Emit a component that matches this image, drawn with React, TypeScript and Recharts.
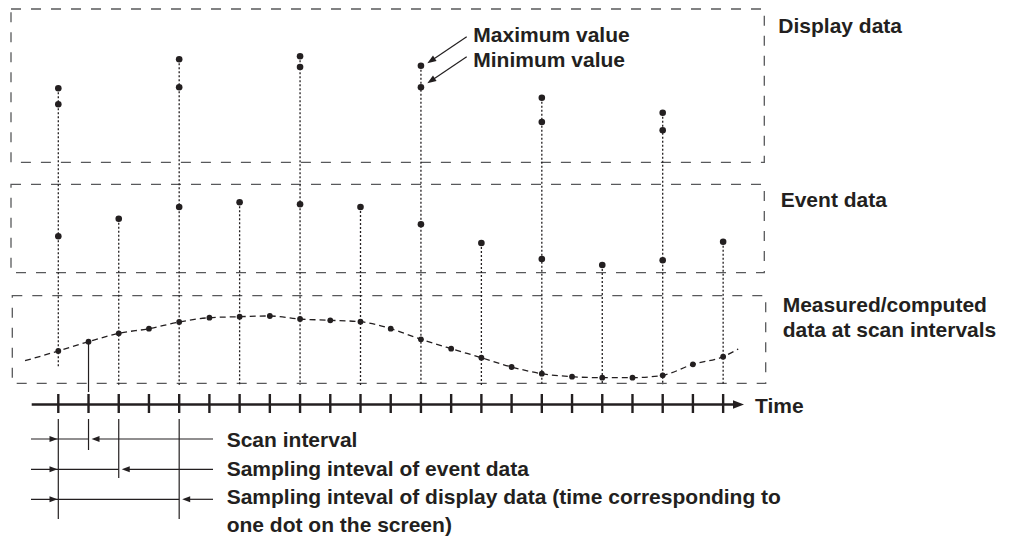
import React from "react";
import {
  ComposedChart,
  XAxis,
  YAxis,
  Scatter,
  Line,
  ReferenceLine,
  ReferenceArea,
  ReferenceDot,
} from "recharts";

const INK = "#231f20";
const FRAME = "#58595b";
const FONT = "'Liberation Sans', Arial, Helvetica, sans-serif";

// one scan per tick on the time axis
const scanTimes = [0, 1, 2, 3, 4, 5, 6, 7, 8, 9, 10, 11, 12, 13, 14, 15, 16, 17, 18, 19, 20, 21, 22];
const scanValues = [
  190, 199.3, 207.7, 212.3, 219, 223.3, 224.3, 225, 222, 220.7, 219.3, 212.3,
  201.7, 192.3, 183.3, 174, 167.3, 164.3, 163.3, 163.3, 165.7, 176.7, 184.3,
];
// the dashed trend runs a bit past the first and last scan
const trendStartT = -1.1;
const trendStartV = 180.3;
const trendEndT = 22.5;
const trendEndV = 192;

// event data, every second scan
const eventTimes = [0, 2, 4, 6, 8, 10, 12, 14, 16, 18, 20, 22];
const eventValues = [304.7, 322.3, 334, 338.7, 336.7, 334, 316.7, 298, 282, 276, 280.7, 299.3];

// display data (max / min pair), every fourth scan
const displayTimes = [0, 4, 8, 12, 16, 20];
const displayMax = [452.7, 481.7, 484.7, 475.3, 443.3, 428.3];
const displayMin = [436.7, 453.7, 474, 453.7, 419, 410.7];

const intervalSpans = [1, 2, 4];
const intervalLabels = [
  "Scan interval",
  "Sampling inteval of event data",
  "Sampling inteval of display data (time corresponding to",
];

// page layout (pixels)
const W = 1009;
const H = 541;
const T0_PX = 58.3;
const DT_PX = 30.22;
const tAt = (px: number) => (px - T0_PX) / DT_PX;
const vAt = (py: number) => H - py;
const pxOfT = (t: number) => T0_PX + t * DT_PX;

const scanData = scanTimes.map((t, i) => ({ t, v: scanValues[i] }));
const trendData = [
  { t: trendStartT, v: trendStartV },
  ...scanData,
  { t: trendEndT, v: trendEndV },
];
const eventData = eventTimes.map((t, i) => ({ t, v: eventValues[i] }));
const displayData = displayTimes.flatMap((t, i) => [
  { t, v: displayMax[i] },
  { t, v: displayMin[i] },
]);

const dropTop = eventTimes.map((t, i) => {
  const d = displayTimes.indexOf(t);
  return d >= 0 ? Math.max(displayMax[d], eventValues[i]) : eventValues[i];
});

const dot = (r: number) => (p: any) => <circle cx={p.cx} cy={p.cy} r={r} fill={INK} />;

const seg = (key: string, x1: number, y1: number, x2: number, y2: number, style: any) => (
  <ReferenceLine
    key={key}
    segment={[{ x: x1, y: y1 }, { x: x2, y: y2 }]}
    ifOverflow="visible"
    {...style}
  />
);

const head = (key: string, x: number, y: number, angle: number, len = 9, half = 3.2) => (
  <ReferenceDot
    key={key}
    x={x}
    y={y}
    r={1}
    ifOverflow="visible"
    shape={(p: any) => {
      const a = (angle * Math.PI) / 180;
      const c = Math.cos(a);
      const s = Math.sin(a);
      const bx = p.cx - len * c;
      const by = p.cy - len * s;
      const pts = `${p.cx},${p.cy} ${bx - half * s},${by + half * c} ${bx + half * s},${by - half * c}`;
      return <polygon points={pts} fill={INK} />;
    }}
  />
);

const label = (key: string, xPx: number, yPx: number, text: string) => (
  <ReferenceDot
    key={key}
    x={tAt(xPx)}
    y={vAt(yPx)}
    r={0}
    ifOverflow="visible"
    shape={(p: any) => (
      <text x={p.cx} y={p.cy} fill={INK} fontFamily={FONT} fontWeight="bold" fontSize={21}>
        {text}
      </text>
    )}
  />
);

const box = (key: string, l: number, t: number, r: number, b: number) => (
  <ReferenceArea
    key={key}
    x1={tAt(l)}
    x2={tAt(r)}
    y1={vAt(b)}
    y2={vAt(t)}
    fill="none"
    fillOpacity={0}
    stroke={FRAME}
    strokeWidth={1.3}
    strokeDasharray="10 10"
    ifOverflow="visible"
  />
);

const dotted = { stroke: INK, strokeWidth: 1.3, strokeDasharray: "2 2" };
const solid = { stroke: INK, strokeWidth: 1.2 };
const axisStyle = { stroke: INK, strokeWidth: 2.7 };

const rowY = [439, 469.3, 499.3];
const rowLineEnd = [450, 478, 519];
const rowBaseline = [447.3, 475.5, 503.5];

export default function App() {
  return (
    <div style={{ position: "absolute", left: 0, top: 0, background: "#fff" }}>
      <ComposedChart width={W} height={H} margin={{ top: 0, right: 0, bottom: 0, left: 0 }}>
        <XAxis type="number" dataKey="t" domain={[tAt(0), tAt(W)]} allowDataOverflow hide />
        <YAxis type="number" dataKey="v" domain={[0, H]} allowDataOverflow hide />

        {box("b1", 11, 9, 764.3, 162.3)}
        {box("b2", 11, 184.3, 764.3, 272.7)}
        {box("b3", 12.3, 295.7, 765.7, 383.3)}

        {eventTimes.map((t, i) =>
          seg(`drop${t}`, t, dropTop[i], t, vAt(t === 0 ? 368 : 385), dotted)
        )}
        {seg("scanDrop", scanTimes[1], scanValues[1], scanTimes[1], vAt(392), solid)}

        {/* time axis */}
        {seg("axis", tAt(31.7), vAt(404.5), tAt(735), vAt(404.5), axisStyle)}
        {head("axisHead", tAt(744), vAt(404.5), 0, 11, 4.2)}
        {scanTimes.map((t) => seg(`tick${t}`, t, vAt(394), t, vAt(413), { stroke: INK, strokeWidth: 2.4 }))}

        <Line
          data={trendData}
          dataKey="v"
          type="monotone"
          dot={false}
          activeDot={false}
          stroke={INK}
          strokeWidth={1.3}
          strokeDasharray="6 4"
          isAnimationActive={false}
        />
        <Scatter data={scanData} shape={dot(2.9)} isAnimationActive={false} />
        <Scatter data={eventData} shape={dot(3.3)} isAnimationActive={false} />
        <Scatter data={displayData} shape={dot(3.3)} isAnimationActive={false} />

        {/* max / min callouts */}
        {seg("maxArrow", tAt(466.7), vAt(36.7), tAt(430), vAt(61.5), solid)}
        {head("maxHead", tAt(427.3), vAt(63.3), 146, 9, 3.2)}
        {seg("minArrow", tAt(466.7), vAt(56.7), tAt(430), vAt(81.5), solid)}
        {head("minHead", tAt(427.3), vAt(83.3), 146, 9, 3.2)}

        {/* interval brackets under the axis */}
        {seg("v0", 0, vAt(419), 0, vAt(519), solid)}
        {intervalSpans.map((s, i) => seg(`ve${i}`, s, vAt(419), s, vAt(rowLineEnd[i]), solid))}
        {intervalSpans.map((s, i) => seg(`row${i}`, tAt(31), vAt(rowY[i]), s, vAt(rowY[i]), solid))}
        {intervalSpans.map((s, i) => head(`lh${i}`, tAt(57.5), vAt(rowY[i]), 0, 8, 3))}
        {intervalSpans.map((s, i) =>
          seg(`rr${i}`, tAt(pxOfT(s) + 8), vAt(rowY[i]), tAt(213), vAt(rowY[i]), solid)
        )}
        {intervalSpans.map((s, i) => head(`rh${i}`, tAt(pxOfT(s) + 3), vAt(rowY[i]), 180, 8, 3))}

        {label("lmax", 473.3, 41.7, "Maximum value")}
        {label("lmin", 473.3, 66.7, "Minimum value")}
        {label("ldisp", 778.3, 32.7, "Display data")}
        {label("levent", 780.7, 206.5, "Event data")}
        {label("lmeas1", 782.7, 311.7, "Measured/computed")}
        {label("lmeas2", 782.7, 337.3, "data at scan intervals")}
        {label("ltime", 755, 413.3, "Time")}
        {intervalLabels.map((txt, i) => label(`il${i}`, 226.7, rowBaseline[i], txt))}
        {label("il3", 226.7, 531.7, "one dot on the screen)")}
      </ComposedChart>
    </div>
  );
}
